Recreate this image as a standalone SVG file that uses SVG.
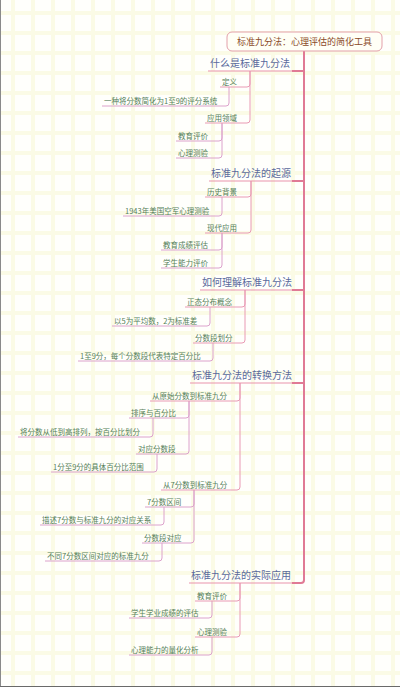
<svg xmlns="http://www.w3.org/2000/svg" width="400" height="687" viewBox="0 0 400 687">
<defs>
<pattern id="grid" x="0" y="0" width="20" height="20" patternUnits="userSpaceOnUse">
<rect width="20" height="20" fill="#fffffc"/>
<rect x="11" y="0" width="4" height="20" fill="#fbfbe6"/>
<rect x="0" y="11" width="20" height="4" fill="#fbfbe6"/>
</pattern>
<style>
text{font-family:"Noto Sans CJK SC","Noto Sans",sans-serif}
.root{font-size:9px;fill:#8a4a28;text-anchor:middle}
.l1{font-size:10px;fill:#5a6a9c}
.l2{font-size:7.5px;fill:#55805a}
.l3{font-size:7.5px;fill:#55805a}
.u1{fill:none;stroke:#ea93ab;stroke-width:1.2}
.u2{fill:none;stroke:#e99ab4;stroke-width:1}
.u3{fill:none;stroke:#dca2cc;stroke-width:1}
.trunk{fill:none;stroke:#e07a95;stroke-width:2}
.c2{fill:none;stroke:#e99ab4;stroke-width:1}
.c3{fill:none;stroke:#dca2cc;stroke-width:1}
</style>
</defs>
<rect width="400" height="687" fill="url(#grid)"/>
<line x1="0.5" y1="0" x2="0.5" y2="687" stroke="#8a8a8a"/>
<line x1="0" y1="686.5" x2="400" y2="686.5" stroke="#6a6a6a"/>

<g id="connectors">
<path class="trunk" d="M304 51 V580 Q304 583 301 583 H292"/>
<path class="trunk" d="M304 71 H292 M304 181 H292 M304 290 H292 M304 383 H292"/>
<path class="c2" d="M250 71 V84 Q250 87 247 87 M250 71 V120 Q250 123 247 123"/>
<path class="c3" d="M229 87 V103 Q229 106 226 106"/>
<path class="c3" d="M222 123 V138 Q222 141 219 141 M222 123 V155 Q222 158 219 158"/>
<path class="c2" d="M251 181 V194 Q251 197 248 197 M251 181 V230 Q251 233 248 233"/>
<path class="c3" d="M222 197 V213 Q222 216 219 216"/>
<path class="c3" d="M222 233 V247 Q222 250 219 250 M222 233 V265 Q222 268 219 268"/>
<path class="c2" d="M245 290 V304 Q245 307 242 307 M245 290 V340 Q245 343 242 343"/>
<path class="c3" d="M210 307 V323 Q210 326 207 326"/>
<path class="c3" d="M213 343 V358 Q213 361 210 361"/>
<path class="c2" d="M240 383 V398 Q240 401 237 401 M240 383 V487 Q240 490 237 490"/>
<path class="c3" d="M189 401 V415 Q189 418 186 418 M189 401 V451 Q189 454 186 454"/>
<path class="c3" d="M153 418 V434 Q153 437 150 437"/>
<path class="c3" d="M157 454 V469 Q157 472 154 472"/>
<path class="c3" d="M194 490 V504 Q194 507 191 507 M194 490 V540 Q194 543 191 543"/>
<path class="c3" d="M164 507 V522 Q164 525 161 525"/>
<path class="c3" d="M162 543 V558 Q162 561 159 561"/>
<path class="c2" d="M240 583 V598 Q240 601 237 601 M240 583 V634 Q240 637 237 637"/>
<path class="c3" d="M212 601 V615 Q212 618 209 618"/>
<path class="c3" d="M212 637 V652 Q212 655 209 655"/>
</g>

<g id="root">
<rect x="227" y="32" width="155" height="19" rx="5" fill="#fffff6" stroke="#e3a0aa" stroke-width="1"/>
<text class="root" x="304.5" y="45">标准九分法：心理评估的简化工具</text>
</g>

<g id="s1"><text class="l1" x="210" y="67">什么是标准九分法</text><path class="u1" d="M208 71 H292"/></g>
<g id="s1a"><text class="l2" x="222" y="84.5">定义</text><path class="u2" d="M220 87 H247"/></g>
<g id="s1a1"><text class="l3" x="104" y="103.5">一种将分数简化为1至9的评分系统</text><path class="u3" d="M102 106 H226"/></g>
<g id="s1b"><text class="l2" x="207" y="120.5">应用领域</text><path class="u2" d="M205 123 H247"/></g>
<g id="s1b1"><text class="l3" x="178" y="138.5">教育评价</text><path class="u3" d="M176 141 H219"/></g>
<g id="s1b2"><text class="l3" x="178" y="155.5">心理测验</text><path class="u3" d="M176 158 H219"/></g>

<g id="s2"><text class="l1" x="211" y="177">标准九分法的起源</text><path class="u1" d="M209 181 H292"/></g>
<g id="s2a"><text class="l2" x="207" y="194.5">历史背景</text><path class="u2" d="M205 197 H248"/></g>
<g id="s2a1"><text class="l3" x="125" y="213.5">1943年美国空军心理测验</text><path class="u3" d="M123 216 H219"/></g>
<g id="s2b"><text class="l2" x="207" y="230.5">现代应用</text><path class="u2" d="M205 233 H248"/></g>
<g id="s2b1"><text class="l3" x="163" y="247.5">教育成绩评估</text><path class="u3" d="M161 250 H219"/></g>
<g id="s2b2"><text class="l3" x="163" y="265.5">学生能力评价</text><path class="u3" d="M161 268 H219"/></g>

<g id="s3"><text class="l1" x="202" y="286">如何理解标准九分法</text><path class="u1" d="M200 290 H292"/></g>
<g id="s3a"><text class="l2" x="187" y="304.5">正态分布概念</text><path class="u2" d="M185 307 H242"/></g>
<g id="s3a1"><text class="l3" x="114" y="323.5">以5为平均数，2为标准差</text><path class="u3" d="M112 326 H207"/></g>
<g id="s3b"><text class="l2" x="195" y="340.5">分数段划分</text><path class="u2" d="M193 343 H242"/></g>
<g id="s3b1"><text class="l3" x="80" y="358.5">1至9分，每个分数段代表特定百分比</text><path class="u3" d="M78 361 H210"/></g>

<g id="s4"><text class="l1" x="192" y="379">标准九分法的转换方法</text><path class="u1" d="M190 383 H292"/></g>
<g id="s4a"><text class="l2" x="152" y="398.5">从原始分数到标准九分</text><path class="u2" d="M150 401 H237"/></g>
<g id="s4a1"><text class="l3" x="131" y="415.5">排序与百分比</text><path class="u3" d="M129 418 H186"/></g>
<g id="s4a1a"><text class="l3" x="20" y="434.5">将分数从低到高排列，按百分比划分</text><path class="u3" d="M18 437 H150"/></g>
<g id="s4a2"><text class="l3" x="138" y="451.5">对应分数段</text><path class="u3" d="M136 454 H186"/></g>
<g id="s4a2a"><text class="l3" x="53" y="469.5">1分至9分的具体百分比范围</text><path class="u3" d="M51 472 H154"/></g>
<g id="s4b"><text class="l2" x="163" y="487.5">从7分数到标准九分</text><path class="u2" d="M161 490 H237"/></g>
<g id="s4b1"><text class="l3" x="147" y="504.5">7分数区间</text><path class="u3" d="M145 507 H191"/></g>
<g id="s4b1a"><text class="l3" x="42" y="522.5">描述7分数与标准九分的对应关系</text><path class="u3" d="M40 525 H161"/></g>
<g id="s4b2"><text class="l3" x="144" y="540.5">分数段对应</text><path class="u3" d="M142 543 H191"/></g>
<g id="s4b2a"><text class="l3" x="47" y="558.5">不同7分数区间对应的标准九分</text><path class="u3" d="M45 561 H159"/></g>

<g id="s5"><text class="l1" x="191" y="579">标准九分法的实际应用</text><path class="u1" d="M189 583 H292"/></g>
<g id="s5a"><text class="l2" x="197" y="598.5">教育评价</text><path class="u2" d="M195 601 H237"/></g>
<g id="s5a1"><text class="l3" x="131" y="615.5">学生学业成绩的评估</text><path class="u3" d="M129 618 H209"/></g>
<g id="s5b"><text class="l2" x="197" y="634.5">心理测验</text><path class="u2" d="M195 637 H237"/></g>
<g id="s5b1"><text class="l3" x="131" y="652.5">心理能力的量化分析</text><path class="u3" d="M129 655 H209"/></g>
</svg>
